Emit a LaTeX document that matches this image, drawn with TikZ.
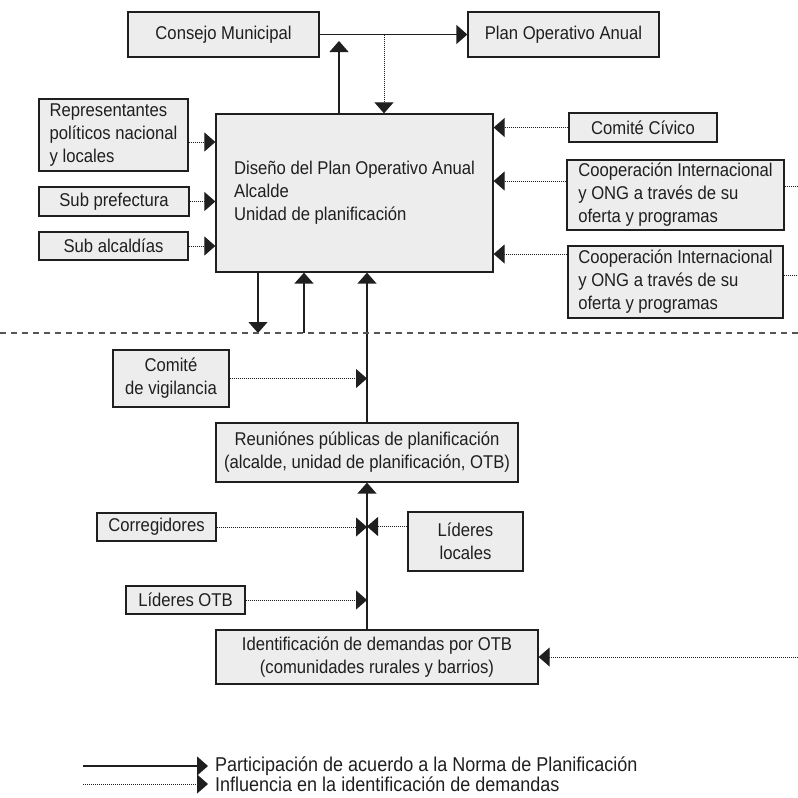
\documentclass[tikz,border=0pt]{standalone}
\usepackage{fontspec}
\setmainfont[FakeStretch=0.9]{Liberation Sans}
\usetikzlibrary{arrows.meta}
\definecolor{boxfill}{HTML}{EDEDED}
\definecolor{ink}{HTML}{1F1F1F}
\definecolor{dashgray}{HTML}{555555}
\begin{document}
\begin{tikzpicture}[x=1pt,y=-1pt,
  box/.style={draw=ink, fill=boxfill, line width=1.3pt, inner sep=0pt, font=\fontsize{18.5}{23}\selectfont, text=ink},
  solidarrow/.style={draw=ink, line width=1.4pt, -{Triangle[length=11pt,width=19pt]}},
  dotarrow/.style={draw=ink, line width=1pt, dash pattern=on 1pt off 1pt, -{Triangle[length=11pt,width=19pt]}},
  dotline/.style={draw=ink, line width=1pt, dash pattern=on 1pt off 1pt},
  dashline/.style={draw=dashgray, line width=1.3pt, dash pattern=on 6pt off 5pt},
  legendtext/.style={anchor=west, inner sep=0pt, font=\fontsize{20}{23}\selectfont, text=ink}
]
\useasboundingbox (0,0) rectangle (798,798);

% boxes
\node[box, minimum width=191pt, minimum height=45pt] (consejo) at (223.5,34.5) {Consejo Municipal};
\node[box, minimum width=191pt, minimum height=45pt] (plan) at (563.5,34.5) {Plan Operativo Anual};
\node[box, minimum width=277pt, minimum height=158pt, align=left] (main) at (354.5,193) {Diseño del Plan Operativo Anual\\Alcalde\\Unidad de planificación};
\node[box, minimum width=149pt, minimum height=72pt, align=left] (repr) at (113.5,135) {Representantes\\políticos nacional\\y locales};
\node[box, minimum width=150pt, minimum height=29pt] (subpref) at (114,201.5) {Sub prefectura};
\node[box, minimum width=149pt, minimum height=28pt] (subalc) at (113.5,246) {Sub alcaldías};
\node[box, minimum width=148pt, minimum height=29pt] (civico) at (643,127.5) {Comité Cívico};
\node[box, minimum width=217pt, minimum height=70pt, align=left] (coop1) at (675.5,195) {Cooperación Internacional\\y ONG a través de su\\oferta y programas};
\node[box, minimum width=215pt, minimum height=72pt, align=left] (coop2) at (675.5,282) {Cooperación Internacional\\y ONG a través de su\\oferta y programas};
\node[box, minimum width=116pt, minimum height=57pt, align=center] (vigil) at (171,378.5) {Comité\\de vigilancia};
\node[box, minimum width=302pt, minimum height=59pt, align=center] (reun) at (367,452.5) {Reuniónes públicas de planificación\\(alcalde, unidad de planificación, OTB)};
\node[box, minimum width=119pt, minimum height=28pt] (correg) at (156.5,527) {Corregidores};
\node[box, minimum width=115pt, minimum height=59pt, align=center] (llocales) at (465.5,541.5) {Líderes\\locales};
\node[box, minimum width=119pt, minimum height=28pt] (lotb) at (185.5,600) {Líderes OTB};
\node[box, minimum width=322pt, minimum height=54pt, align=center] (ident) at (377,657) {Identificación de demandas por OTB\\(comunidades rurales y barrios)};

% helper coordinates
\coordinate (upT) at (339,41);
\coordinate (dotT) at (384,34.5);
\coordinate (dl) at (0,333);
\coordinate (dr) at (798,333);
\coordinate (downB) at (258,333);
\coordinate (upB) at (304,333);
\coordinate (c1r) at (798,186);
\coordinate (c2r) at (798,275);
\coordinate (idr) at (798,657);
\coordinate (rA) at ([yshift=-7pt]repr.east);
\coordinate (c1a) at ([yshift=14pt]coop1.west);
\coordinate (c2a) at ([yshift=28pt]coop2.west);
\coordinate (llA) at ([yshift=15pt]llocales.west);

% top
\draw[solidarrow] (consejo.east) -- (plan.west);
\draw[solidarrow] (main.north -| upT) -- (upT);
\draw[dotarrow] (dotT) -- (dotT |- main.north);

% left inputs
\draw[dotarrow] (rA) -- (rA -| main.west);
\draw[dotarrow] (subpref.east) -- (subpref.east -| main.west);
\draw[dotarrow] (subalc.east) -- (subalc.east -| main.west);

% right inputs
\draw[dotarrow] (civico.west) -- (civico.west -| main.east);
\draw[dotarrow] (c1a) -- (c1a -| main.east);
\draw[dotarrow] (c2a) -- (c2a -| main.east);
\draw[dotline] (c1r -| coop1.east) -- (c1r);
\draw[dotline] (c2r -| coop2.east) -- (c2r);

% below main
\draw[solidarrow] (main.south -| downB) -- (downB);
\draw[solidarrow] (upB) -- (upB |- main.south);
\draw[solidarrow] (reun.north) -- (reun.north |- main.south);
\draw[dashline] (dl) -- (dr);

% lower chain
\draw[dotarrow] (vigil.east) -- (vigil.east -| reun.north);
\draw[solidarrow] (ident.north -| reun.south) -- (reun.south);
\draw[dotarrow] (correg.east) -- (correg.east -| reun.south);
\draw[dotarrow] (llA) -- (llA -| reun.south);
\draw[dotarrow] (lotb.east) -- (lotb.east -| reun.south);
\draw[dotarrow] (idr) -- (idr -| ident.east);

% legend
\coordinate (la1) at (83,766);
\coordinate (lb1) at (208,766);
\coordinate (la2) at (83,784);
\coordinate (lb2) at (208,784);
\draw[solidarrow] (la1) -- (lb1);
\draw[dotarrow] (la2) -- (lb2);
\node[legendtext] (leg1) at (215,766) {Participación de acuerdo a la Norma de Planificación};
\node[legendtext] (leg2) at (215,784) {Influencia en la identificación de demandas};
\end{tikzpicture}
\end{document}
